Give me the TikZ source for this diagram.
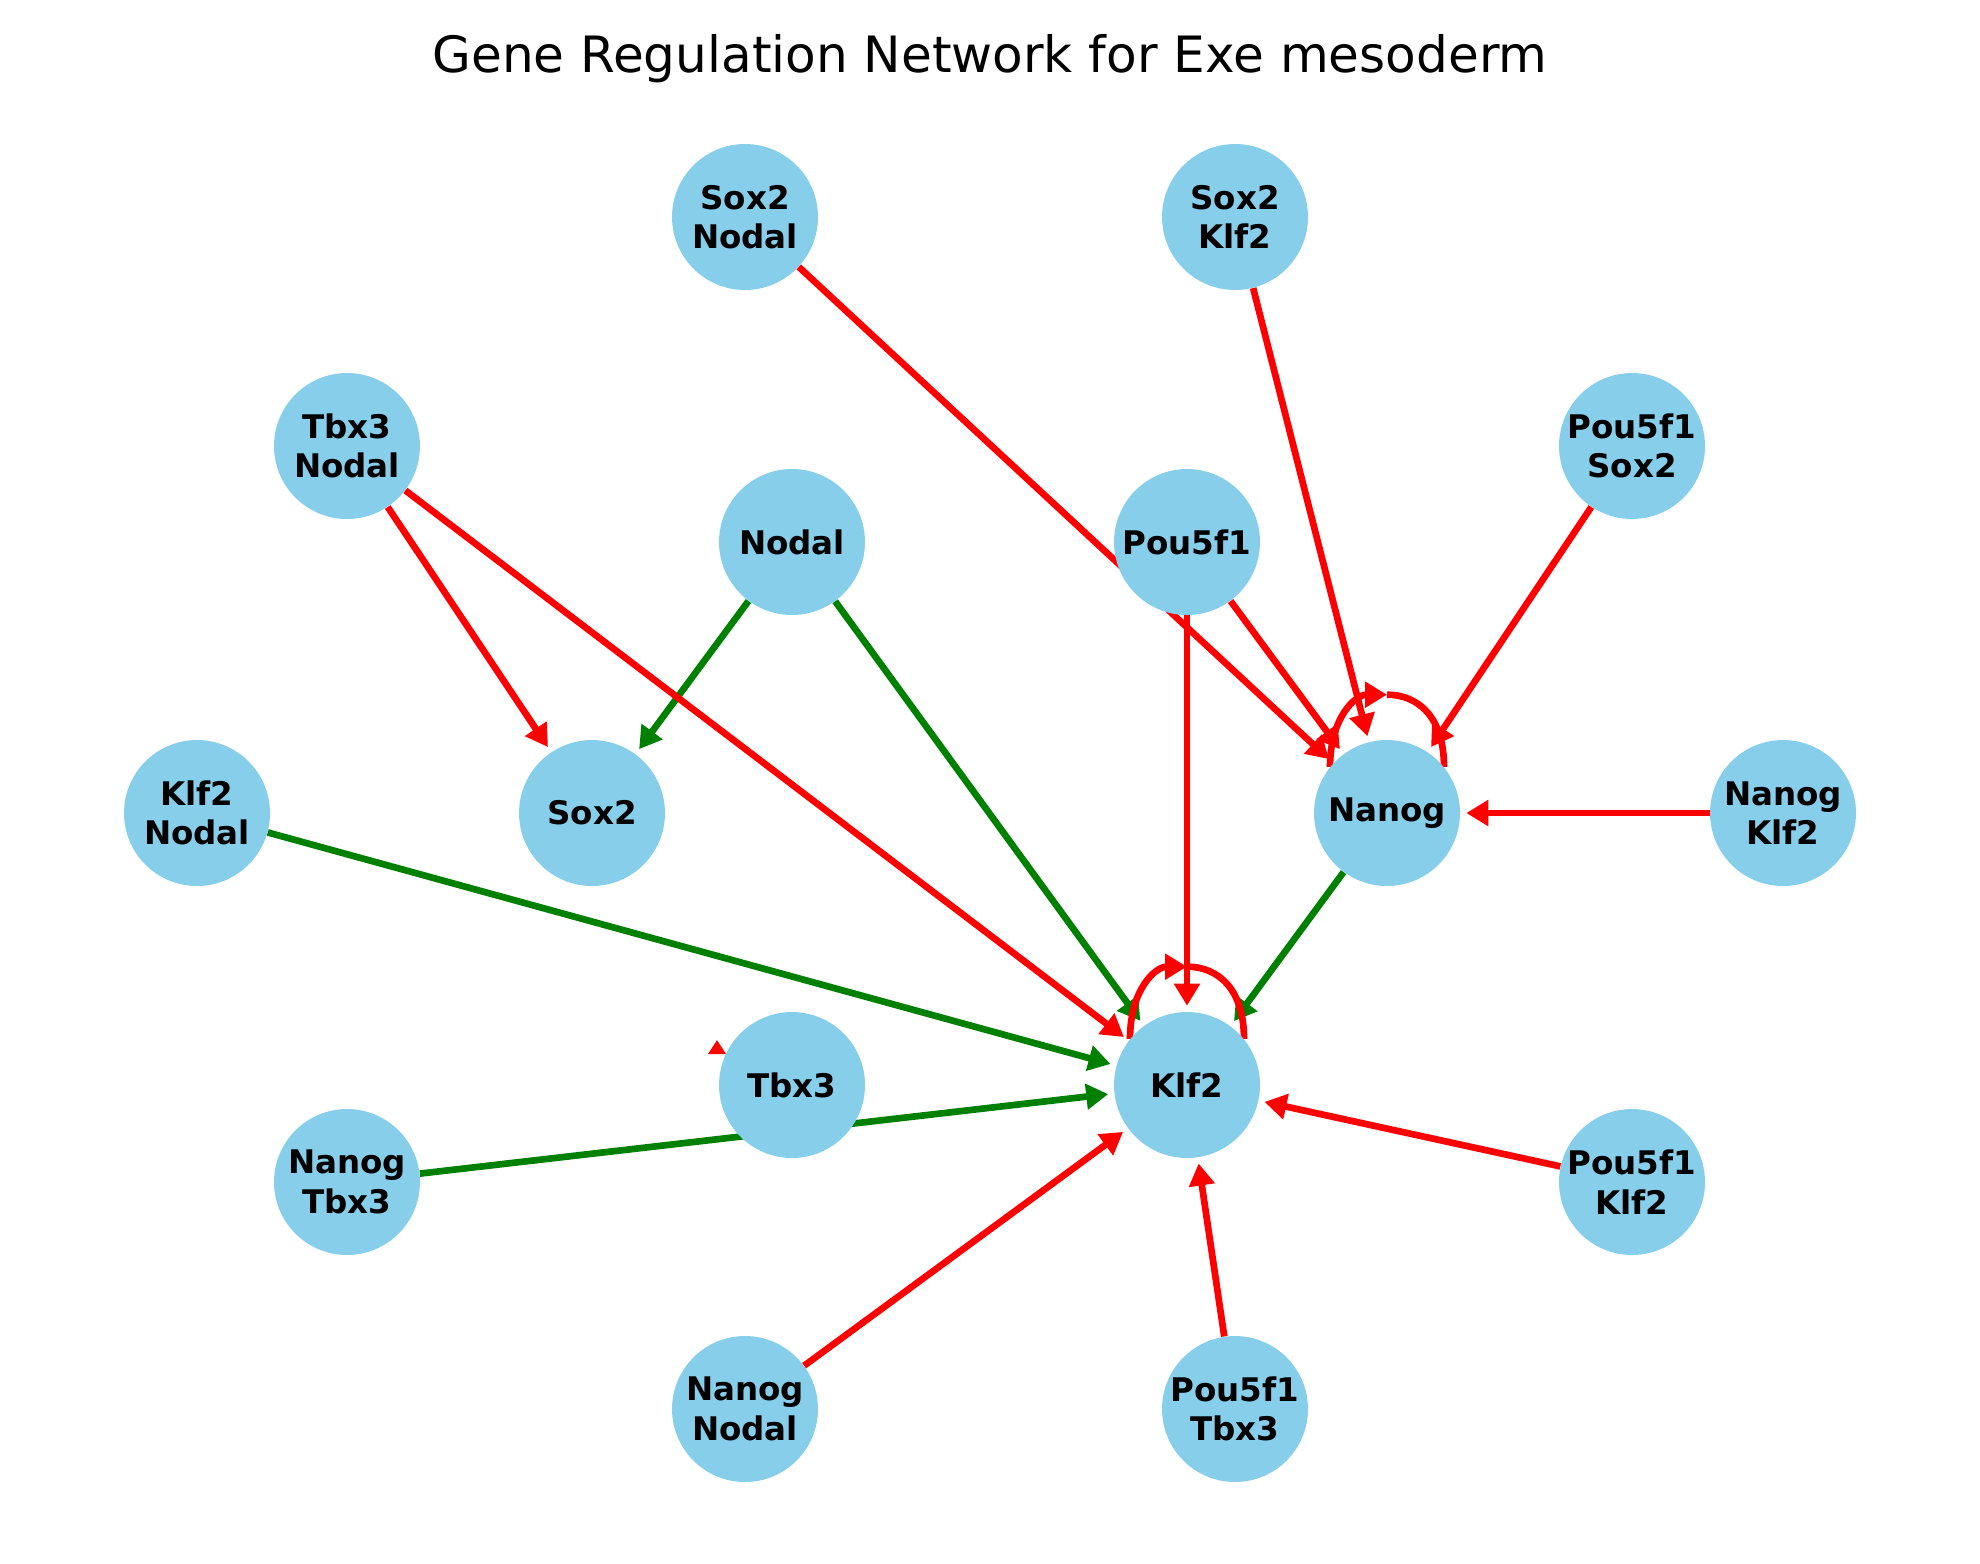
\documentclass[tikz,border=0pt]{standalone}
\usepackage{fontspec}
\setmainfont{DejaVu Sans}
\usepackage{xcolor}
\usepackage{tikz}
\usetikzlibrary{arrows.meta,calc,backgrounds}
\definecolor{geneblue}{RGB}{135,206,235}
\definecolor{actgreen}{RGB}{0,128,0}

\begin{document}
\begin{tikzpicture}[x=0.02cm,y=-0.02cm,
  gene/.style={circle,fill=geneblue,minimum size=2.92cm,inner sep=0pt,align=center,
    font=\fontsize{18.5}{22.5}\selectfont\bfseries},
  act/.style={draw=actgreen,line width=3.8pt,-{Triangle[length=0.44cm,width=0.5cm]},shorten >=0.12cm},
  rep/.style={draw=red,line width=3.8pt,-{Triangle[length=0.44cm,width=0.5cm]},shorten >=0.12cm}]
  \useasboundingbox (0,0) rectangle (1980,1563);
  \node[font=\fontsize{28.5}{34}\selectfont,anchor=base] (title) at (990,72) {Gene Regulation Network for Exe mesoderm};
  % outer ring
  \node[gene] (sox2nodal) at (745,217) {Sox2\\Nodal};
  \node[gene] (sox2klf2) at (1235,217) {Sox2\\Klf2};
  \node[gene] (tbx3nodal) at (347,446) {Tbx3\\Nodal};
  \node[gene] (pou5f1sox2) at (1632,446) {Pou5f1\\Sox2};
  \node[gene] (klf2nodal) at (197,813) {Klf2\\Nodal};
  \node[gene] (nanogklf2) at (1783,813) {Nanog\\Klf2};
  \node[gene] (nanogtbx3) at (347,1182) {Nanog\\Tbx3};
  \node[gene] (pou5f1klf2) at (1632,1182) {Pou5f1\\Klf2};
  \node[gene] (nanognodal) at (745,1409) {Nanog\\Nodal};
  \node[gene] (pou5f1tbx3) at (1235,1409) {Pou5f1\\Tbx3};
  % inner ring
  \node[gene] (nodal) at (792,542) {Nodal};
  \node[gene] (pou5f1) at (1187,542) {Pou5f1};
  \node[gene] (sox2) at (592,813) {Sox2};
  \node[gene] (nanog) at (1387,813) {Nanog};
  \node[gene] (tbx3) at (792,1085) {Tbx3};
  \node[gene] (klf2) at (1187,1085) {Klf2};
  \begin{pgfonlayer}{background}
    % activation
    \draw[act] (nodal) -- (sox2);
    \draw[act] (nodal) -- (klf2);
    \draw[act] (klf2nodal) -- (klf2);
    \draw[act] (nanogtbx3) -- (klf2);
    \draw[act] (nanog) -- (klf2);
    % repression
    \draw[rep] (sox2nodal) -- (nanog);
    \draw[rep] (sox2klf2) -- (nanog);
    \draw[rep] (pou5f1sox2) -- (nanog);
    \draw[rep] (nanogklf2) -- (nanog);
    \draw[rep] (pou5f1) -- (nanog);
    \draw[rep] (tbx3nodal) -- (sox2);
    \draw[rep] (tbx3nodal) -- (klf2);
    \draw[rep] (pou5f1) -- (klf2);
    \draw[rep] (pou5f1klf2) -- (klf2);
    \draw[rep] (pou5f1tbx3) -- (klf2);
    \draw[rep] (nanognodal) -- (klf2);
    % self loops
    \draw[rep,shorten >=0pt] (nanog.141) .. controls +(0,-50) and +(-31,0) .. ($(nanog.north)+(0,-45)$);
    \draw[draw=red,line width=3.8pt] ($(nanog.north)+(0,-45)$) .. controls +(31,0) and +(0,-50) .. (nanog.39);
    \draw[rep,shorten >=0pt] (klf2.141) .. controls +(0,-50) and +(-31,0) .. ($(klf2.north)+(0,-45)$);
    \draw[draw=red,line width=3.8pt] ($(klf2.north)+(0,-45)$) .. controls +(31,0) and +(0,-50) .. (klf2.39);
    \draw[rep,shorten >=0pt,-{Triangle[length=0.28cm,width=0.34cm]}] ($(tbx3.center)+(-75,-31)$) -- ($(tbx3.center)+(-75,-45)$);
  \end{pgfonlayer}
\end{tikzpicture}
\end{document}
